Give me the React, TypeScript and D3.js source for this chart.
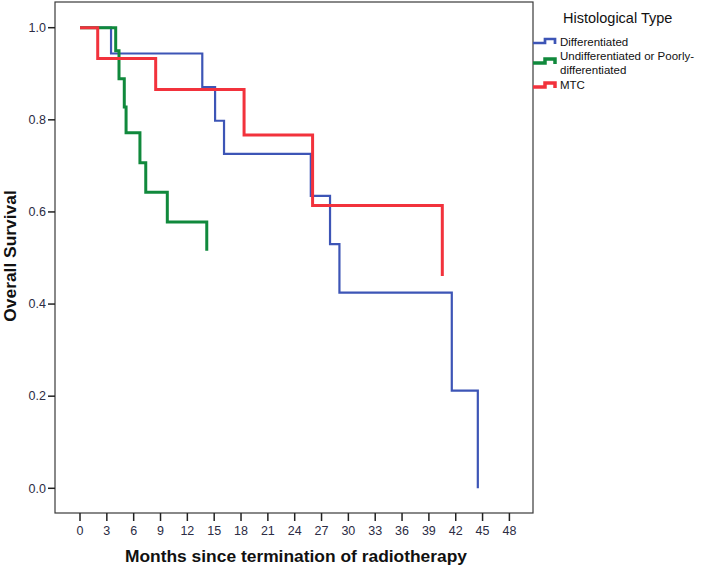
import React from "react";
import * as d3 from "d3";

const xTicks = [0, 3, 6, 9, 12, 15, 18, 21, 24, 27, 30, 33, 36, 39, 42, 45, 48];
const yTicks = [0.0, 0.2, 0.4, 0.6, 0.8, 1.0];

// Differentiated
const diffTimes = [0, 3.47, 13.67, 15.1, 16.1, 25.8, 27.95, 29.0, 41.56, 44.47];
const diffSurv = [1.0, 0.944, 0.871, 0.798, 0.726, 0.635, 0.53, 0.425, 0.212, 0.0];
const diffEnd = 44.47;

// Undifferentiated or Poorly-differentiated
const undiffTimes = [0, 3.99, 4.36, 4.95, 5.15, 6.7, 7.35, 9.76, 14.17];
const undiffSurv = [1.0, 0.95, 0.889, 0.828, 0.772, 0.707, 0.643, 0.578, 0.516];
const undiffEnd = 14.17;

// MTC
const mtcTimes = [0, 1.98, 8.46, 18.34, 26.0, 40.5];
const mtcSurv = [1.0, 0.933, 0.866, 0.767, 0.614, 0.461];
const mtcEnd = 40.5;

const seriesNames = ["Differentiated", "Undifferentiated or Poorly-differentiated", "MTC"];
const seriesColors = ["#3d55b6", "#10893c", "#f2323c"];
const seriesWidths = [2.2, 3, 3];

const W = 709;
const H = 569;
const frame = { left: 55, top: 2, right: 533, bottom: 513 };

const x = d3.scaleLinear().domain([0, 48]).range([80, 509.4]);
const y = d3.scaleLinear().domain([0, 1]).range([488.3, 27.7]);

function kmPoints(times: number[], surv: number[], end: number): [number, number][] {
  const pts: [number, number][] = [];
  for (let i = 0; i < times.length; i++) {
    pts.push([times[i], surv[i]]);
  }
  const last = pts[pts.length - 1];
  if (last[0] < end) pts.push([end, last[1]]);
  return pts;
}

const lineGen = d3
  .line<[number, number]>()
  .x((d) => x(d[0]))
  .y((d) => y(d[1]))
  .curve(d3.curveStepAfter);

const series = [
  kmPoints(diffTimes, diffSurv, diffEnd),
  kmPoints(undiffTimes, undiffSurv, undiffEnd),
  kmPoints(mtcTimes, mtcSurv, mtcEnd),
];

const font = "'Liberation Sans', Arial, sans-serif";
const tickColor = "#2c2c44";

export default function App() {
  const legendX = 533;
  const legendEntries = [
    { lines: ["Differentiated"], base: 45.5, iconY: 43 },
    { lines: ["Undifferentiated or Poorly-", "differentiated"], base: 60.3, iconY: 63 },
    { lines: ["MTC"], base: 89.3, iconY: 87 },
  ];
  return (
    <svg
      width={W}
      height={H}
      style={{ position: "absolute", left: 0, top: 0, background: "#fff" }}
      fontFamily={font}
    >
      <rect x={0} y={0} width={W} height={H} fill="#fff" />
      {/* curves */}
      {series.map((pts, i) => (
        <path
          key={i}
          d={lineGen(pts) || ""}
          fill="none"
          stroke={seriesColors[i]}
          strokeWidth={seriesWidths[i]}
        />
      ))}
      {/* frame */}
      <rect
        x={frame.left}
        y={frame.top}
        width={frame.right - frame.left}
        height={frame.bottom - frame.top}
        fill="none"
        stroke="#3a3a3a"
        strokeWidth={1.2}
      />
      {/* y axis ticks */}
      {yTicks.map((t) => (
        <g key={t}>
          <line x1={frame.left - 7} x2={frame.left} y1={y(t)} y2={y(t)} stroke="#222" strokeWidth={1.5} />
          <text x={46} y={y(t) + 4.3} textAnchor="end" fontSize={12.5} fill={tickColor}>
            {t.toFixed(1)}
          </text>
        </g>
      ))}
      {/* x axis ticks */}
      {xTicks.map((t) => (
        <g key={t}>
          <line x1={x(t)} x2={x(t)} y1={frame.bottom} y2={frame.bottom + 8} stroke="#222" strokeWidth={1.5} />
          <text x={x(t)} y={535} textAnchor="middle" fontSize={12.5} fill={tickColor}>
            {t}
          </text>
        </g>
      ))}
      {/* axis titles */}
      <text x={296} y={562} textAnchor="middle" fontSize={17.4} fontWeight="bold" fill="#111">
        Months since termination of radiotherapy
      </text>
      <text
        transform={`translate(16,256) rotate(-90)`}
        textAnchor="middle"
        fontSize={17.4}
        fontWeight="bold"
        fill="#111"
      >
        Overall Survival
      </text>
      {/* legend */}
      <text x={563} y={23} fontSize={14.5} fill="#111">
        Histological Type
      </text>
      {legendEntries.map((e, i) => (
        <g key={i}>
          <path
            d={`M${legendX},${e.iconY} H${legendX + 12} V${e.iconY - 4} H${legendX + 22} V${e.iconY + 1}`}
            fill="none"
            stroke={seriesColors[i]}
            strokeWidth={seriesWidths[i] + 0.5}
          />
          {e.lines.map((ln, j) => (
            <text key={j} x={560} y={e.base + j * 13.4} fontSize={11.5} fill="#111">
              {ln}
            </text>
          ))}
        </g>
      ))}
    </svg>
  );
}
